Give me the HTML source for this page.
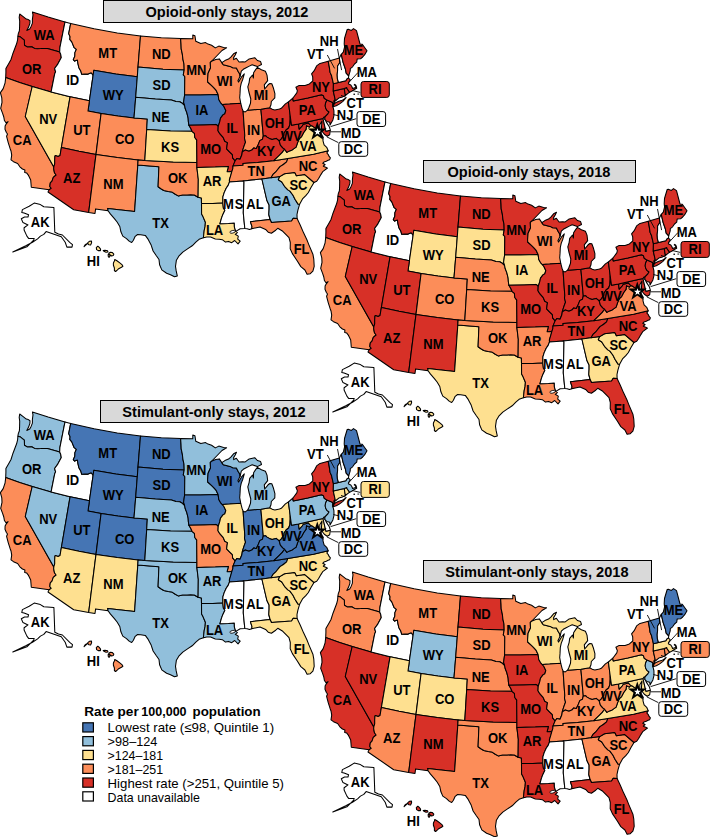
<!DOCTYPE html>
<html><head><meta charset="utf-8"><style>
html,body{margin:0;padding:0;background:#fff;overflow:hidden;}
svg{display:block;}
text{font-family:"Liberation Sans",sans-serif;font-weight:bold;}
</style></head><body>
<svg width="710" height="837" viewBox="0 0 710 837">
<defs>
<path id="sWA" d="M32.4,12.0 48.1,17.1 65.0,21.9 59.9,47.6 59.7,52.0 47.4,48.5 44.1,48.4 40.8,48.6 37.6,48.7 34.5,48.4 31.7,46.8 27.1,46.9 24.5,45.2 24.4,42.8 24.3,40.1 22.7,38.8 20.6,37.1 17.9,36.2 18.3,33.6 19.4,30.8 19.6,26.6 19.7,21.3 19.2,17.4 19.7,14.0 23.5,16.8 26.3,19.1 28.3,19.6 30.0,20.7 29.9,23.3 28.6,27.1 26.8,30.4 29.7,29.1 31.1,26.4 32.4,23.1 32.4,19.4 33.0,14.8 32.4,12.0Z"/>
<path id="sOR" d="M17.9,36.2 20.6,37.1 22.7,38.8 24.3,40.1 24.4,42.8 24.5,45.2 27.1,46.9 31.7,46.8 34.5,48.4 37.6,48.7 40.8,48.6 44.1,48.4 47.4,48.5 59.7,52.0 60.7,54.3 61.3,57.6 59.3,61.3 57.8,64.1 54.6,68.5 55.6,71.9 54.7,73.8 51.1,91.9 32.2,86.5 19.6,82.5 5.7,77.6 5.9,72.3 5.9,68.6 8.5,64.0 11.0,59.5 13.0,53.2 14.8,48.5 16.6,43.8 17.6,39.8 17.9,36.2Z"/>
<path id="sCA" d="M5.7,77.6 19.6,82.5 32.2,86.5 25.3,116.5 53.8,166.9 53.7,168.9 54.5,172.8 56.1,175.0 53.3,177.3 52.0,181.2 50.3,182.9 49.8,186.5 51.2,188.4 49.1,189.8 31.3,187.3 31.0,183.8 30.7,180.0 28.3,175.1 26.8,173.1 24.7,172.5 24.9,169.9 22.4,169.0 19.9,166.8 17.6,163.5 13.5,161.7 11.0,159.8 11.7,155.2 11.1,151.3 10.0,148.2 8.3,142.8 6.6,136.3 7.5,134.0 6.4,132.5 5.0,129.3 5.1,126.1 6.3,123.8 8.1,121.7 6.0,122.8 4.4,120.5 3.8,117.0 2.6,113.4 0.7,108.4 2.0,102.3 1.8,97.9 0.4,92.6 3.2,88.6 5.1,82.8 5.7,77.6Z"/>
<path id="sNV" d="M32.2,86.5 51.1,91.9 70.1,96.7 61.4,147.5 60.0,155.6 58.1,156.4 55.2,155.6 54.9,156.5 54.7,159.7 54.7,163.9 53.8,166.9 25.3,116.5 32.2,86.5Z"/>
<path id="sID" d="M65.0,21.9 70.7,23.4 68.7,33.6 70.1,36.8 69.8,39.4 71.8,41.9 74.2,47.7 76.4,49.3 74.9,52.6 74.8,56.3 73.3,59.6 74.6,61.1 77.4,60.0 78.0,63.8 78.9,67.7 80.9,71.3 81.7,74.3 84.6,74.1 88.1,74.1 91.2,72.7 93.1,75.3 89.4,100.8 70.1,96.7 51.1,91.9 54.7,73.8 55.6,71.9 54.6,68.5 57.8,64.1 59.3,61.3 61.3,57.6 60.7,54.3 59.7,52.0 59.9,47.6 65.0,21.9Z"/>
<path id="sMT" d="M70.7,23.4 94.1,28.8 117.3,33.0 140.5,36.0 138.0,67.1 137.3,76.8 115.8,74.0 93.8,70.3 93.1,75.3 91.2,72.7 88.1,74.1 84.6,74.1 81.7,74.3 80.9,71.3 78.9,67.7 78.0,63.8 77.4,60.0 74.6,61.1 73.3,59.6 74.8,56.3 74.9,52.6 76.4,49.3 74.2,47.7 71.8,41.9 69.8,39.4 70.1,36.8 68.7,33.6 70.7,23.4Z"/>
<path id="sWY" d="M93.1,75.3 93.8,70.3 115.8,74.0 137.3,76.8 135.7,97.3 134.0,117.9 117.9,115.9 101.1,113.4 88.0,111.0 89.4,100.8 93.1,75.3Z"/>
<path id="sUT" d="M70.1,96.7 89.4,100.8 88.0,111.0 101.1,113.4 96.0,154.4 79.0,151.3 61.4,147.5 70.1,96.7Z"/>
<path id="sCO" d="M101.1,113.4 117.9,115.9 134.0,117.9 147.3,119.1 146.7,129.5 144.8,160.5 138.1,159.9 117.2,157.6 96.0,154.4 101.1,113.4Z"/>
<path id="sAZ" d="M61.4,147.5 79.0,151.3 96.0,154.4 88.7,212.4 73.7,209.7 48.0,192.0 49.1,189.8 51.2,188.4 49.8,186.5 50.3,182.9 52.0,181.2 53.3,177.3 56.1,175.0 54.5,172.8 53.7,168.9 53.8,166.9 54.7,163.9 54.7,159.7 54.9,156.5 55.2,155.6 58.1,156.4 60.0,155.6 61.4,147.5Z"/>
<path id="sNM" d="M96.0,154.4 117.2,157.6 138.1,159.9 137.8,165.1 134.6,211.5 107.6,208.4 108.1,210.7 95.6,208.9 95.0,213.5 88.7,212.4 96.0,154.4Z"/>
<path id="sTX" d="M137.8,165.1 158.9,166.7 158.1,186.7 160.9,188.7 163.8,190.5 168.1,191.5 171.7,191.9 175.3,194.3 178.2,195.9 182.6,195.0 187.0,195.0 190.7,194.7 194.3,195.0 198.1,197.2 201.4,198.1 201.5,203.5 201.6,214.1 203.0,216.6 205.4,222.2 205.1,226.4 204.2,230.5 203.4,237.7 199.1,239.3 196.1,241.9 192.2,245.8 187.5,248.9 182.8,252.1 178.8,256.2 176.4,260.2 175.5,266.3 176.2,270.9 177.3,275.9 174.5,276.7 170.5,274.7 166.6,273.2 161.8,269.9 159.6,264.7 159.0,259.5 156.0,255.3 153.1,251.0 151.0,244.7 148.2,239.4 145.3,235.4 140.7,234.7 137.6,234.5 135.2,236.3 133.4,240.3 131.7,242.5 129.4,241.4 126.5,238.6 122.8,236.1 120.9,231.8 119.8,226.5 117.1,222.0 114.4,218.6 110.3,213.9 108.1,210.7 107.6,208.4 134.6,211.5 137.8,165.1Z"/>
<path id="sOK" d="M138.1,159.9 144.8,160.5 173.2,162.1 196.9,162.4 196.9,167.6 198.3,179.2 198.1,197.2 194.3,195.0 190.7,194.7 187.0,195.0 182.6,195.0 178.2,195.9 175.3,194.3 171.7,191.9 168.1,191.5 163.8,190.5 160.9,188.7 158.1,186.7 158.9,166.7 137.8,165.1 138.1,159.9Z"/>
<path id="sND" d="M140.5,36.0 161.3,37.8 180.6,38.6 181.0,43.7 181.2,48.8 182.3,53.9 182.9,59.1 184.0,64.2 184.2,69.9 163.0,69.2 138.0,67.1 140.5,36.0Z"/>
<path id="sSD" d="M138.0,67.1 163.0,69.2 184.2,69.9 183.3,74.9 184.8,76.5 184.6,95.0 183.6,102.3 184.6,105.5 182.3,103.3 179.7,101.7 175.9,101.6 171.4,99.9 155.3,99.0 135.7,97.3 137.3,76.8 138.0,67.1Z"/>
<path id="sNE" d="M135.7,97.3 155.3,99.0 171.4,99.9 175.9,101.6 179.7,101.7 182.3,103.3 184.6,105.5 185.2,108.5 186.8,112.6 188.1,117.8 188.4,122.0 188.9,125.3 190.7,128.2 192.0,131.3 170.5,130.9 146.7,129.5 147.3,119.1 134.0,117.9 135.7,97.3Z"/>
<path id="sKS" d="M146.7,129.5 170.5,130.9 192.0,131.3 194.4,133.4 194.8,137.5 196.8,140.1 196.7,140.6 196.9,162.4 173.2,162.1 144.8,160.5 146.7,129.5Z"/>
<path id="sMN" d="M180.6,38.6 192.8,38.8 192.8,34.9 194.9,35.7 195.8,41.3 200.8,43.6 205.6,42.6 208.0,44.1 211.6,45.3 215.3,47.9 218.8,46.1 223.6,47.4 226.6,47.7 222.0,50.5 216.2,56.5 211.5,61.3 210.3,62.4 210.5,68.0 208.1,73.2 207.6,79.4 207.7,82.0 210.9,84.9 213.5,87.4 216.2,90.4 218.1,94.4 200.3,95.0 184.6,95.0 184.8,76.5 183.3,74.9 184.2,69.9 184.0,64.2 182.9,59.1 182.3,53.9 181.2,48.8 181.0,43.7 180.6,38.6Z"/>
<path id="sIA" d="M184.6,95.0 200.3,95.0 218.1,94.4 218.8,99.6 220.5,102.6 222.3,104.5 223.9,106.5 225.8,110.5 224.9,113.7 223.0,114.9 220.5,118.1 219.9,121.2 218.2,126.7 217.4,125.5 215.9,124.4 204.1,124.9 188.9,125.3 188.4,122.0 188.1,117.8 186.8,112.6 185.2,108.5 184.6,105.5 183.6,102.3 184.6,95.0Z"/>
<path id="sMO" d="M188.9,125.3 204.1,124.9 215.9,124.4 217.4,125.5 218.2,126.7 218.0,130.7 219.8,133.7 223.3,137.7 224.8,141.2 227.5,142.6 227.1,145.2 226.6,148.9 229.5,151.8 232.4,154.7 232.6,157.8 235.2,160.8 234.3,162.9 233.0,166.1 232.8,168.7 231.9,171.4 227.1,171.7 228.4,166.4 215.4,167.1 196.9,167.6 196.9,162.4 196.7,140.6 196.8,140.1 194.8,137.5 194.4,133.4 192.0,131.3 190.7,128.2 188.9,125.3Z"/>
<path id="sAR" d="M196.9,167.6 215.4,167.1 228.4,166.4 227.1,171.7 231.9,171.4 230.7,175.6 229.4,179.9 229.5,181.9 228.3,185.1 226.2,188.3 224.2,192.6 222.9,196.8 222.8,203.0 212.8,203.5 201.5,203.5 201.4,198.1 198.1,197.2 198.3,179.2 196.9,167.6Z"/>
<path id="sLA" d="M201.5,203.5 212.8,203.5 222.8,203.0 223.4,208.2 224.9,210.2 222.9,214.4 221.5,218.1 219.9,223.8 228.5,223.4 234.3,223.0 234.4,227.1 235.8,231.4 237.4,232.6 235.2,234.3 238.3,236.1 237.7,239.2 240.2,241.1 238.0,243.9 234.7,240.5 231.7,242.7 228.6,241.4 225.5,242.1 222.3,239.7 219.2,239.3 215.3,238.9 210.6,237.0 206.8,236.9 203.4,237.7 204.2,230.5 205.1,226.4 205.4,222.2 203.0,216.6 201.6,214.1 201.5,203.5Z"/>
<path id="sWI" d="M211.5,61.3 215.7,59.6 219.3,58.9 221.8,62.6 223.3,64.8 230.1,66.4 232.7,67.7 236.4,67.9 238.2,71.4 239.6,73.8 240.1,76.3 237.9,80.7 238.6,82.1 241.4,77.2 244.3,73.8 242.8,79.2 241.2,83.4 240.3,87.7 240.0,93.9 239.7,97.7 240.7,103.2 229.7,104.1 222.3,104.5 220.5,102.6 218.8,99.6 218.1,94.4 216.2,90.4 213.5,87.4 210.9,84.9 207.7,82.0 207.6,79.4 208.1,73.2 210.5,68.0 210.3,62.4 211.5,61.3Z"/>
<path id="sIL" d="M222.3,104.5 229.7,104.1 240.7,103.2 242.0,108.2 243.1,111.2 244.8,135.5 244.5,138.1 245.5,142.2 244.3,145.4 242.9,149.7 242.3,151.9 241.8,155.0 240.0,159.3 236.8,158.6 235.2,160.8 232.6,157.8 232.4,154.7 229.5,151.8 226.6,148.9 227.1,145.2 227.5,142.6 224.8,141.2 223.3,137.7 219.8,133.7 218.0,130.7 218.2,126.7 219.9,121.2 220.5,118.1 223.0,114.9 224.9,113.7 225.8,110.5 223.9,106.5 222.3,104.5Z"/>
<path id="sIN" d="M243.1,111.2 245.3,111.9 247.6,110.2 260.9,109.2 263.3,136.0 262.4,139.3 259.8,140.6 257.8,145.6 256.3,148.4 253.5,148.1 252.3,149.8 248.9,151.2 245.3,150.0 242.3,151.9 242.9,149.7 244.3,145.4 245.5,142.2 244.5,138.1 244.8,135.5 243.1,111.2Z"/>
<path id="sOH" d="M260.9,109.2 269.7,107.7 272.9,109.6 274.9,109.9 279.5,109.1 281.3,108.3 285.4,103.9 288.4,102.0 290.2,115.7 290.2,119.3 289.9,124.6 288.6,128.0 286.1,130.0 284.1,133.0 284.0,135.1 282.2,137.5 281.7,138.6 279.2,140.9 276.1,138.4 272.1,139.5 269.2,138.4 267.0,137.1 265.5,135.7 263.3,136.0 260.9,109.2Z"/>
<path id="sKY" d="M263.3,136.0 265.5,135.7 267.0,137.1 269.2,138.4 272.1,139.5 276.1,138.4 279.2,140.9 280.4,145.1 282.8,147.8 284.6,149.2 282.3,152.4 278.8,155.8 273.8,160.7 257.5,162.5 243.0,163.4 243.1,165.3 233.0,166.1 234.3,162.9 235.2,160.8 236.8,158.6 240.0,159.3 241.8,155.0 242.3,151.9 245.3,150.0 248.9,151.2 252.3,149.8 253.5,148.1 256.3,148.4 257.8,145.6 259.8,140.6 262.4,139.3 263.3,136.0Z"/>
<path id="sTN" d="M233.0,166.1 243.1,165.3 243.0,163.4 257.5,162.5 273.8,160.7 287.8,158.6 286.6,161.9 283.4,164.5 280.0,166.6 276.3,171.3 273.0,174.4 271.0,177.8 261.9,179.0 243.2,180.9 229.5,181.9 229.4,179.9 230.7,175.6 231.9,171.4 232.8,168.7 233.0,166.1Z"/>
<path id="sMS" d="M229.5,181.9 243.2,180.9 244.0,181.9 243.3,213.0 244.8,228.4 240.2,228.8 235.8,231.4 234.4,227.1 234.3,223.0 228.5,223.4 219.9,223.8 221.5,218.1 222.9,214.4 224.9,210.2 223.4,208.2 222.8,203.0 222.9,196.8 224.2,192.6 226.2,188.3 228.3,185.1 229.5,181.9Z"/>
<path id="sAL" d="M243.2,180.9 261.9,179.0 266.9,200.5 269.1,205.1 269.1,209.3 268.8,214.5 270.1,219.5 250.4,221.7 252.0,226.7 251.7,228.8 249.5,229.5 247.1,228.7 244.8,228.4 243.3,213.0 244.0,181.9 243.2,180.9Z"/>
<path id="sGA" d="M261.9,179.0 271.0,177.8 279.7,176.6 278.3,179.7 281.8,182.0 284.5,186.3 287.9,189.9 289.9,191.1 293.0,195.3 295.0,199.2 297.9,203.9 299.6,204.3 297.9,210.1 297.0,214.5 297.1,218.5 293.2,218.2 291.6,220.9 271.4,222.5 270.1,219.5 268.8,214.5 269.1,209.3 269.1,205.1 266.9,200.5 261.9,179.0Z"/>
<path id="sFL" d="M270.1,219.5 271.4,222.5 291.6,220.9 293.2,218.2 297.1,218.5 300.3,225.3 303.7,233.1 306.9,239.7 308.8,244.6 312.9,254.2 313.8,259.2 314.2,266.3 312.9,271.2 310.3,273.7 307.1,274.3 304.9,270.0 300.8,266.6 297.3,261.0 292.4,253.6 290.2,248.8 290.3,242.5 289.0,237.6 286.3,234.9 282.8,231.3 277.8,228.3 275.7,230.2 271.4,233.3 268.2,232.2 265.6,229.4 260.0,226.9 251.7,228.8 252.0,226.7 250.4,221.7 270.1,219.5Z"/>
<path id="sSC" d="M314.0,182.5 304.5,174.4 296.4,175.7 295.1,173.0 294.2,172.6 284.5,173.7 279.7,176.6 278.3,179.7 281.8,182.0 284.5,186.3 287.9,189.9 289.9,191.1 293.0,195.3 295.0,199.2 297.9,203.9 299.6,204.3 302.5,198.9 305.8,195.7 308.4,192.5 310.7,187.9 314.0,182.5Z"/>
<path id="sNC" d="M271.0,177.8 273.0,174.4 276.3,171.3 280.0,166.6 283.4,164.5 286.6,161.9 287.8,158.6 313.5,154.2 328.2,150.8 326.9,153.1 328.1,154.3 329.3,156.7 330.4,157.9 329.6,159.7 328.1,160.3 326.3,161.2 323.9,162.1 322.7,163.3 325.1,164.5 323.3,166.2 326.3,167.5 327.5,168.1 325.1,169.8 322.7,171.7 320.9,174.6 318.5,178.8 316.7,181.2 314.0,182.5 304.5,174.4 296.4,175.7 295.1,173.0 294.2,172.6 284.5,173.7 279.7,176.6 271.0,177.8Z"/>
<path id="sVA" d="M273.8,160.7 287.8,158.6 313.5,154.2 328.2,150.8 326.7,147.3 324.1,144.9 323.0,140.9 323.1,137.2 320.4,135.7 317.3,134.3 315.4,133.2 316.2,129.8 315.6,128.4 312.8,126.3 310.8,125.5 309.2,127.1 306.5,125.6 306.0,129.4 303.7,132.5 301.6,136.6 299.4,138.6 297.6,142.6 296.1,147.1 292.2,149.9 289.5,150.9 286.9,152.4 284.6,149.2 282.3,152.4 278.8,155.8 273.8,160.7Z"/>
<path id="sWV" d="M279.2,140.9 281.7,138.6 282.2,137.5 284.0,135.1 284.1,133.0 286.1,130.0 288.6,128.0 289.9,124.6 290.2,119.3 290.2,115.7 291.5,125.2 298.5,123.9 299.2,129.2 302.1,126.0 303.2,124.2 306.5,123.5 308.5,123.1 310.8,125.5 309.2,127.1 306.5,125.6 306.0,129.4 303.7,132.5 301.6,136.6 299.4,138.6 297.6,142.6 296.1,147.1 292.2,149.9 289.5,150.9 286.9,152.4 284.6,149.2 282.8,147.8 280.4,145.1 279.2,140.9Z"/>
<path id="sMD" d="M298.5,123.9 311.6,121.1 323.0,118.5 325.9,131.2 330.3,130.2 329.7,134.8 327.2,136.2 324.3,134.3 321.6,130.7 321.5,126.5 322.0,121.1 319.8,124.8 319.9,129.0 321.4,133.9 323.1,137.2 320.4,135.7 317.3,134.3 315.4,133.2 316.2,129.8 315.6,128.4 312.8,126.3 310.8,125.5 308.5,123.1 306.5,123.5 303.2,124.2 302.1,126.0 299.2,129.2 298.5,123.9Z"/>
<path id="sDE" d="M323.0,118.5 324.0,117.0 325.0,116.9 324.8,119.3 326.3,122.1 329.3,126.7 330.3,130.2 325.9,131.2 323.0,118.5Z"/>
<path id="sPA" d="M290.2,115.7 288.4,102.0 292.8,98.2 293.2,100.9 307.8,97.9 321.5,94.7 323.5,95.8 324.3,98.3 327.0,100.1 325.5,103.2 325.2,106.0 325.8,108.5 326.9,110.3 329.0,111.9 327.9,113.8 326.7,115.1 325.0,116.9 324.0,117.0 323.0,118.5 311.6,121.1 298.5,123.9 291.5,125.2 290.2,115.7Z"/>
<path id="sNJ" d="M325.0,116.9 326.7,115.1 327.9,113.8 329.0,111.9 326.9,110.3 325.8,108.5 325.2,106.0 325.5,103.2 327.0,100.1 332.9,102.4 332.7,105.1 332.8,106.5 333.3,108.1 333.9,110.6 334.0,115.4 332.9,119.9 330.0,125.1 329.8,122.3 326.9,121.5 324.8,119.3 325.0,116.9Z"/>
<path id="sNY" d="M292.8,98.2 296.8,92.9 297.4,90.7 295.9,87.3 299.2,85.4 305.1,85.4 309.4,83.9 312.8,81.0 312.7,76.8 311.6,73.9 314.2,70.7 316.6,65.9 320.0,63.4 328.2,61.3 329.2,66.3 330.1,72.4 331.4,75.2 333.4,83.7 333.3,91.1 335.2,99.7 333.9,101.1 334.4,102.0 333.8,103.8 333.0,105.0 332.8,106.5 332.7,105.1 332.9,102.4 327.0,100.1 324.3,98.3 323.5,95.8 321.5,94.7 307.8,97.9 293.2,100.9 292.8,98.2ZM333.0,106.8 336.3,105.8 339.3,104.1 342.9,101.3 345.9,98.0 343.2,99.6 341.4,100.6 338.8,101.3 335.6,102.7 333.9,104.3 333.0,106.8Z"/>
<path id="sCT" d="M333.3,91.1 344.2,88.4 345.4,95.5 342.6,96.9 338.8,98.1 335.9,100.5 334.4,102.0 333.9,101.1 335.2,99.7 333.3,91.1Z"/>
<path id="sRI" d="M344.2,88.4 346.8,87.6 347.1,88.8 349.6,92.3 348.0,93.4 345.4,95.5 344.2,88.4Z"/>
<path id="sMA" d="M333.3,91.1 333.4,83.7 338.5,82.5 345.8,80.7 347.0,78.7 348.5,78.0 350.3,79.8 348.6,82.5 348.6,84.1 350.8,85.0 351.9,86.8 352.6,88.5 354.9,87.8 355.9,87.0 355.3,85.5 354.2,84.9 354.7,84.4 355.8,85.2 356.5,87.0 356.7,88.3 353.9,89.7 352.5,90.9 349.6,92.3 347.1,88.8 346.8,87.6 344.2,88.4 333.3,91.1Z"/>
<path id="sVT" d="M328.2,61.3 329.2,66.3 330.1,72.4 331.4,75.2 333.4,83.7 338.5,82.5 337.4,78.8 337.2,74.7 337.6,70.3 337.6,66.0 339.8,62.7 339.4,58.1 328.2,61.3Z"/>
<path id="sNH" d="M339.4,58.1 339.8,62.7 337.6,66.0 337.6,70.3 337.2,74.7 337.4,78.8 338.5,82.5 345.8,80.7 347.0,78.7 348.5,78.0 348.7,75.8 346.2,73.1 345.4,69.0 343.1,62.3 341.3,54.3 339.4,58.1Z"/>
<path id="sME" d="M341.3,54.3 343.1,62.3 345.4,69.0 346.2,73.1 348.7,75.8 350.2,70.8 350.3,68.6 352.6,66.8 354.5,64.0 356.7,62.2 357.2,58.9 360.5,58.8 362.7,57.0 364.7,54.7 367.0,50.7 364.8,47.7 362.3,44.3 360.0,44.0 356.5,30.6 353.5,28.6 351.4,30.4 348.3,29.3 347.2,29.5 344.5,38.5 344.2,43.9 344.6,46.9 343.3,52.1 341.3,54.3Z"/>
<path id="sMI" d="M247.6,110.2 260.9,109.2 269.7,107.7 271.0,104.7 271.3,101.5 274.8,97.9 274.9,93.7 273.3,87.7 271.8,83.8 269.9,83.5 268.1,84.8 264.7,89.0 264.3,84.9 267.7,80.7 267.0,75.1 265.4,71.2 261.4,69.7 257.4,67.4 255.8,69.4 253.6,72.8 253.4,78.0 252.5,75.0 249.7,78.4 249.1,82.6 247.8,86.9 248.9,92.0 250.8,99.0 250.5,103.2 248.9,107.5 247.6,110.2ZM221.8,62.6 224.9,60.6 228.5,59.1 230.8,57.1 233.6,53.8 236.5,52.3 235.2,55.0 233.6,57.6 233.7,59.6 236.3,58.2 239.1,62.0 242.7,61.7 245.2,61.9 249.2,58.9 254.7,57.7 257.4,60.5 260.6,61.6 261.5,64.5 257.4,66.6 252.2,64.7 249.3,66.1 245.7,68.0 243.3,69.3 241.3,71.1 240.1,76.3 239.6,73.8 238.2,71.4 236.4,67.9 232.7,67.7 230.1,66.4 223.3,64.8 221.8,62.6Z"/>
<path id="sAK" d="M34.2,203.1 40.4,204.6 43.8,206.8 53.9,207.6 54.8,232.2 58.5,233.9 62.4,235.0 69.7,242.3 72.5,244.6 72.0,247.1 66.9,247.1 65.2,242.3 61.3,236.7 46.1,231.6 43.8,234.4 40.4,236.1 37.6,238.9 32.5,242.3 25.8,245.7 12.8,251.9 26.9,246.8 33.7,240.1 34.2,238.4 28.6,238.4 26.9,236.1 24.1,230.0 24.1,227.7 28.0,224.9 23.0,222.6 21.3,218.7 24.6,217.0 28.0,217.0 28.6,214.7 24.1,213.0 21.8,212.5 22.4,209.6 29.2,206.3Z"/>
<path id="sHI" d="M84.1,246.6 85.0,245.0 86.4,243.9 87.6,243.4 86.6,244.4 85.2,245.6ZM87.8,242.6 89.4,241.3 91.5,241.0 91.6,242.8 90.6,245.0 89.0,244.8 88.0,243.8ZM96.3,247.6 97.8,246.2 99.0,247.2 100.6,249.2 100.4,250.6 98.2,250.6 96.6,249.6ZM103.2,250.5 105.0,250.3 107.6,250.8 107.9,252.0 106.0,252.2 104.4,251.6ZM108.2,254.2 109.6,254.6 110.0,256.2 109.0,257.4 108.2,256.2ZM108.9,253.2 110.4,252.2 112.4,252.6 113.8,254.2 113.2,255.6 111.6,256.0 110.4,255.0 109.4,254.8ZM114.8,259.5 117.3,261.0 120.1,263.1 122.2,264.9 122.9,266.3 121.5,267.3 118.7,268.7 116.9,270.5 115.5,271.5 114.4,270.5 114.4,268.0 113.4,265.2 113.4,263.1 114.4,261.0Z"/>
<g id="ov"><g stroke="#000" stroke-width="0.9" fill="none"><line x1="337.5" y1="49.0" x2="341.6" y2="70.1"/><line x1="327.3" y1="55.0" x2="334.6" y2="68.4"/><line x1="357.9" y1="72.6" x2="348.2" y2="83.2"/><line x1="360.2" y1="92.4" x2="351.8" y2="90.4"/><line x1="346.5" y1="97.5" x2="341.0" y2="95.4"/><line x1="338.0" y1="115.7" x2="333.4" y2="114.5"/><line x1="356.2" y1="118.7" x2="330.6" y2="126.6"/><line x1="341.0" y1="131.8" x2="330.5" y2="131.8"/><line x1="338.3" y1="142.6" x2="326.9" y2="136.9"/></g><ellipse cx="232.6" cy="231.8" rx="2.8" ry="1.3" transform="rotate(-15 232.6 231.8)" fill="#fff" stroke="#000" stroke-width="0.8"/><ellipse cx="354.2" cy="94.3" rx="0.9" ry="0.7" fill="#000"/><rect x="357.4" y="93.6" width="1.8" height="0.9" fill="#000"/><path d="M317.3,121.6 319.7,128.4 326.8,128.5 321.1,132.8 323.2,139.7 317.3,135.6 311.4,139.7 313.5,132.8 307.8,128.5 314.9,128.4Z" fill="#000"/><path d="M317.5,128.2 318.4,130.7 321.0,130.8 318.9,132.4 319.7,134.9 317.5,133.4 315.3,134.9 316.1,132.4 314.0,130.8 316.6,130.7Z" fill="#fff"/><g font-size="13" text-anchor="middle" fill="#000"><text transform="translate(44.1,39.7) scale(1,1.1)">WA</text><text transform="translate(31.7,73.6) scale(1,1.1)">OR</text><text transform="translate(22.2,144.9) scale(1,1.1)">CA</text><text transform="translate(48.2,123.8) scale(1,1.1)">NV</text><text transform="translate(72.7,85.3) scale(1,1.1)">ID</text><text transform="translate(107.7,57.6) scale(1,1.1)">MT</text><text transform="translate(113.3,99.6) scale(1,1.1)">WY</text><text transform="translate(81.9,134.8) scale(1,1.1)">UT</text><text transform="translate(124.7,143.8) scale(1,1.1)">CO</text><text transform="translate(71.7,182.8) scale(1,1.1)">AZ</text><text transform="translate(113.4,189.2) scale(1,1.1)">NM</text><text transform="translate(161.3,58.9) scale(1,1.1)">ND</text><text transform="translate(161.6,90.1) scale(1,1.1)">SD</text><text transform="translate(160.7,121.5) scale(1,1.1)">NE</text><text transform="translate(170.1,152.0) scale(1,1.1)">KS</text><text transform="translate(177.7,183.2) scale(1,1.1)">OK</text><text transform="translate(160.5,228.0) scale(1,1.1)">TX</text><text transform="translate(196.4,74.9) scale(1,1.1)">MN</text><text transform="translate(202.0,115.0) scale(1,1.1)">IA</text><text transform="translate(210.7,153.8) scale(1,1.1)">MO</text><text transform="translate(212.1,185.5) scale(1,1.1)">AR</text><text transform="translate(214.6,235.1) scale(1,1.1)">LA</text><text transform="translate(224.8,86.0) scale(1,1.1)">WI</text><text transform="translate(232.2,133.0) scale(1,1.1)">IL</text><text transform="translate(261.0,100.3) scale(1,1.1)">MI</text><text transform="translate(253.6,134.8) scale(1,1.1)">IN</text><text transform="translate(274.4,127.6) scale(1,1.1)">OH</text><text transform="translate(266.0,155.6) scale(1,1.1)">KY</text><text transform="translate(256.2,175.6) scale(1,1.1)">TN</text><text transform="translate(228.4,209.1) scale(1,1.1)">M</text><text transform="translate(239.2,209.1) scale(1,1.1)">S</text><text transform="translate(255.0,209.1) scale(1,1.1)">AL</text><text transform="translate(281.2,205.8) scale(1,1.1)">GA</text><text transform="translate(298.4,189.7) scale(1,1.1)">SC</text><text transform="translate(308.1,170.6) scale(1,1.1)">NC</text><text transform="translate(308.1,150.6) scale(1,1.1)">VA</text><text transform="translate(291.1,140.6) scale(1,1.1)">WV</text><text transform="translate(307.4,114.9) scale(1,1.1)">PA</text><text transform="translate(320.9,91.9) scale(1,1.1)">NY</text><text transform="translate(301.6,254.3) scale(1,1.1)">FL</text><text transform="translate(353.5,55.1) scale(1,1.1)">ME</text><text transform="translate(329.2,45.9) scale(1,1.1)">NH</text><text transform="translate(315.4,59.3) scale(1,1.1)">VT</text><text transform="translate(366.9,76.9) scale(1,1.1)">MA</text><text transform="translate(355.2,107.8) scale(1,1.1)">CT</text><text transform="translate(345.1,120.3) scale(1,1.1)">NJ</text><text transform="translate(350.8,137.9) scale(1,1.1)">MD</text><text transform="translate(40.2,226.5) scale(1,1.1)">AK</text><text transform="translate(93.3,266.0) scale(1,1.1)">HI</text></g></g>
</defs>
<g transform="translate(0,0)">
<g stroke="#000" stroke-width="1.05" stroke-linejoin="round"><use href="#sWA" fill="#d73027"/><use href="#sOR" fill="#d73027"/><use href="#sCA" fill="#fc8d59"/><use href="#sNV" fill="#fee090"/><use href="#sID" fill="#ffffff"/><use href="#sMT" fill="#fc8d59"/><use href="#sWY" fill="#4575b4"/><use href="#sUT" fill="#fc8d59"/><use href="#sCO" fill="#fc8d59"/><use href="#sAZ" fill="#d73027"/><use href="#sNM" fill="#fc8d59"/><use href="#sTX" fill="#91bfdb"/><use href="#sOK" fill="#fc8d59"/><use href="#sND" fill="#fc8d59"/><use href="#sSD" fill="#91bfdb"/><use href="#sNE" fill="#91bfdb"/><use href="#sKS" fill="#fee090"/><use href="#sMN" fill="#fc8d59"/><use href="#sIA" fill="#4575b4"/><use href="#sMO" fill="#d73027"/><use href="#sAR" fill="#fee090"/><use href="#sLA" fill="#fee090"/><use href="#sWI" fill="#fc8d59"/><use href="#sIL" fill="#d73027"/><use href="#sIN" fill="#fc8d59"/><use href="#sOH" fill="#d73027"/><use href="#sKY" fill="#d73027"/><use href="#sTN" fill="#fc8d59"/><use href="#sMS" fill="#ffffff"/><use href="#sAL" fill="#ffffff"/><use href="#sGA" fill="#91bfdb"/><use href="#sFL" fill="#fc8d59"/><use href="#sSC" fill="#fee090"/><use href="#sNC" fill="#fc8d59"/><use href="#sVA" fill="#fee090"/><use href="#sWV" fill="#d73027"/><use href="#sMD" fill="#d73027"/><use href="#sDE" fill="#ffffff"/><use href="#sPA" fill="#d73027"/><use href="#sNJ" fill="#d73027"/><use href="#sNY" fill="#d73027"/><use href="#sCT" fill="#d73027"/><use href="#sRI" fill="#d73027"/><use href="#sMA" fill="#d73027"/><use href="#sVT" fill="#fc8d59"/><use href="#sNH" fill="#ffffff"/><use href="#sME" fill="#d73027"/><use href="#sMI" fill="#fc8d59"/><use href="#sAK" fill="#ffffff"/><use href="#sHI" fill="#fee090"/></g>
<use href="#ov"/>
<rect x="361" y="81.5" width="28.3" height="15.9" rx="2.5" fill="#d73027" stroke="#000" stroke-width="1"/><text transform="translate(375.1,93.6) scale(1,1.1)" font-size="13" text-anchor="middle">RI</text><rect x="357" y="111.6" width="28.6" height="14.9" rx="2.5" fill="#ffffff" stroke="#000" stroke-width="1"/><text transform="translate(371.3,123.6) scale(1,1.1)" font-size="13" text-anchor="middle">DE</text><rect x="338.8" y="141.7" width="28.9" height="14.6" rx="2.5" fill="#ffffff" stroke="#000" stroke-width="1"/><text transform="translate(353.2,153.7) scale(1,1.1)" font-size="13" text-anchor="middle">DC</text><rect x="103.5" y="0.5" width="248" height="22" fill="#d9d9d9" stroke="#000" stroke-width="1"/><text transform="translate(226.9,16.6) scale(1,1.06)" font-size="14.6" text-anchor="middle">Opioid-only stays, 2012</text></g>
<g transform="translate(320,160)">
<g stroke="#000" stroke-width="1.05" stroke-linejoin="round"><use href="#sWA" fill="#d73027"/><use href="#sOR" fill="#d73027"/><use href="#sCA" fill="#fc8d59"/><use href="#sNV" fill="#d73027"/><use href="#sID" fill="#ffffff"/><use href="#sMT" fill="#d73027"/><use href="#sWY" fill="#fee090"/><use href="#sUT" fill="#d73027"/><use href="#sCO" fill="#fc8d59"/><use href="#sAZ" fill="#d73027"/><use href="#sNM" fill="#d73027"/><use href="#sTX" fill="#fee090"/><use href="#sOK" fill="#fc8d59"/><use href="#sND" fill="#d73027"/><use href="#sSD" fill="#fee090"/><use href="#sNE" fill="#fc8d59"/><use href="#sKS" fill="#fc8d59"/><use href="#sMN" fill="#d73027"/><use href="#sIA" fill="#fee090"/><use href="#sMO" fill="#d73027"/><use href="#sAR" fill="#fc8d59"/><use href="#sLA" fill="#fc8d59"/><use href="#sWI" fill="#fc8d59"/><use href="#sIL" fill="#d73027"/><use href="#sIN" fill="#d73027"/><use href="#sOH" fill="#d73027"/><use href="#sKY" fill="#d73027"/><use href="#sTN" fill="#d73027"/><use href="#sMS" fill="#ffffff"/><use href="#sAL" fill="#ffffff"/><use href="#sGA" fill="#fee090"/><use href="#sFL" fill="#d73027"/><use href="#sSC" fill="#fee090"/><use href="#sNC" fill="#d73027"/><use href="#sVA" fill="#fc8d59"/><use href="#sWV" fill="#d73027"/><use href="#sMD" fill="#d73027"/><use href="#sDE" fill="#ffffff"/><use href="#sPA" fill="#d73027"/><use href="#sNJ" fill="#d73027"/><use href="#sNY" fill="#d73027"/><use href="#sCT" fill="#d73027"/><use href="#sRI" fill="#d73027"/><use href="#sMA" fill="#d73027"/><use href="#sVT" fill="#d73027"/><use href="#sNH" fill="#ffffff"/><use href="#sME" fill="#d73027"/><use href="#sMI" fill="#d73027"/><use href="#sAK" fill="#ffffff"/><use href="#sHI" fill="#fee090"/></g>
<use href="#ov"/>
<rect x="361" y="81.5" width="28.3" height="15.9" rx="2.5" fill="#d73027" stroke="#000" stroke-width="1"/><text transform="translate(375.1,93.6) scale(1,1.1)" font-size="13" text-anchor="middle">RI</text><rect x="357" y="111.6" width="28.6" height="14.9" rx="2.5" fill="#ffffff" stroke="#000" stroke-width="1"/><text transform="translate(371.3,123.6) scale(1,1.1)" font-size="13" text-anchor="middle">DE</text><rect x="338.8" y="141.7" width="28.9" height="14.6" rx="2.5" fill="#ffffff" stroke="#000" stroke-width="1"/><text transform="translate(353.2,153.7) scale(1,1.1)" font-size="13" text-anchor="middle">DC</text><rect x="103.5" y="0.5" width="212" height="22" fill="#d9d9d9" stroke="#000" stroke-width="1"/><text transform="translate(208.9,16.6) scale(1,1.06)" font-size="14.6" text-anchor="middle">Opioid-only stays, 2018</text></g>
<g transform="translate(0,400)">
<g stroke="#000" stroke-width="1.05" stroke-linejoin="round"><use href="#sWA" fill="#91bfdb"/><use href="#sOR" fill="#91bfdb"/><use href="#sCA" fill="#fc8d59"/><use href="#sNV" fill="#91bfdb"/><use href="#sID" fill="#ffffff"/><use href="#sMT" fill="#4575b4"/><use href="#sWY" fill="#4575b4"/><use href="#sUT" fill="#4575b4"/><use href="#sCO" fill="#4575b4"/><use href="#sAZ" fill="#fee090"/><use href="#sNM" fill="#fee090"/><use href="#sTX" fill="#91bfdb"/><use href="#sOK" fill="#91bfdb"/><use href="#sND" fill="#4575b4"/><use href="#sSD" fill="#4575b4"/><use href="#sNE" fill="#91bfdb"/><use href="#sKS" fill="#91bfdb"/><use href="#sMN" fill="#91bfdb"/><use href="#sIA" fill="#4575b4"/><use href="#sMO" fill="#fc8d59"/><use href="#sAR" fill="#91bfdb"/><use href="#sLA" fill="#91bfdb"/><use href="#sWI" fill="#4575b4"/><use href="#sIL" fill="#fee090"/><use href="#sIN" fill="#4575b4"/><use href="#sOH" fill="#fee090"/><use href="#sKY" fill="#4575b4"/><use href="#sTN" fill="#4575b4"/><use href="#sMS" fill="#ffffff"/><use href="#sAL" fill="#ffffff"/><use href="#sGA" fill="#fee090"/><use href="#sFL" fill="#fee090"/><use href="#sSC" fill="#fee090"/><use href="#sNC" fill="#fee090"/><use href="#sVA" fill="#4575b4"/><use href="#sWV" fill="#4575b4"/><use href="#sMD" fill="#fee090"/><use href="#sDE" fill="#ffffff"/><use href="#sPA" fill="#91bfdb"/><use href="#sNJ" fill="#91bfdb"/><use href="#sNY" fill="#d73027"/><use href="#sCT" fill="#fee090"/><use href="#sRI" fill="#fee090"/><use href="#sMA" fill="#91bfdb"/><use href="#sVT" fill="#4575b4"/><use href="#sNH" fill="#ffffff"/><use href="#sME" fill="#4575b4"/><use href="#sMI" fill="#91bfdb"/><use href="#sAK" fill="#ffffff"/><use href="#sHI" fill="#fc8d59"/></g>
<use href="#ov"/>
<rect x="361" y="81.5" width="28.3" height="15.9" rx="2.5" fill="#fee090" stroke="#000" stroke-width="1"/><text transform="translate(375.1,93.6) scale(1,1.1)" font-size="13" text-anchor="middle">RI</text><rect x="357" y="111.6" width="28.6" height="14.9" rx="2.5" fill="#ffffff" stroke="#000" stroke-width="1"/><text transform="translate(371.3,123.6) scale(1,1.1)" font-size="13" text-anchor="middle">DE</text><rect x="338.8" y="141.7" width="28.9" height="14.6" rx="2.5" fill="#ffffff" stroke="#000" stroke-width="1"/><text transform="translate(353.2,153.7) scale(1,1.1)" font-size="13" text-anchor="middle">DC</text><rect x="100.5" y="0.5" width="228" height="22" fill="#d9d9d9" stroke="#000" stroke-width="1"/><text transform="translate(213.9,16.6) scale(1,1.06)" font-size="14.6" text-anchor="middle">Stimulant-only stays, 2012</text></g>
<g transform="translate(320,560)">
<g stroke="#000" stroke-width="1.05" stroke-linejoin="round"><use href="#sWA" fill="#fc8d59"/><use href="#sOR" fill="#fc8d59"/><use href="#sCA" fill="#d73027"/><use href="#sNV" fill="#d73027"/><use href="#sID" fill="#ffffff"/><use href="#sMT" fill="#fc8d59"/><use href="#sWY" fill="#91bfdb"/><use href="#sUT" fill="#fee090"/><use href="#sCO" fill="#fee090"/><use href="#sAZ" fill="#fc8d59"/><use href="#sNM" fill="#d73027"/><use href="#sTX" fill="#fc8d59"/><use href="#sOK" fill="#fc8d59"/><use href="#sND" fill="#d73027"/><use href="#sSD" fill="#fc8d59"/><use href="#sNE" fill="#fc8d59"/><use href="#sKS" fill="#d73027"/><use href="#sMN" fill="#fc8d59"/><use href="#sIA" fill="#d73027"/><use href="#sMO" fill="#d73027"/><use href="#sAR" fill="#d73027"/><use href="#sLA" fill="#d73027"/><use href="#sWI" fill="#fee090"/><use href="#sIL" fill="#fc8d59"/><use href="#sIN" fill="#fc8d59"/><use href="#sOH" fill="#fc8d59"/><use href="#sKY" fill="#fc8d59"/><use href="#sTN" fill="#fc8d59"/><use href="#sMS" fill="#ffffff"/><use href="#sAL" fill="#ffffff"/><use href="#sGA" fill="#fc8d59"/><use href="#sFL" fill="#d73027"/><use href="#sSC" fill="#fc8d59"/><use href="#sNC" fill="#d73027"/><use href="#sVA" fill="#fee090"/><use href="#sWV" fill="#fc8d59"/><use href="#sMD" fill="#fee090"/><use href="#sDE" fill="#ffffff"/><use href="#sPA" fill="#fee090"/><use href="#sNJ" fill="#91bfdb"/><use href="#sNY" fill="#fc8d59"/><use href="#sCT" fill="#fc8d59"/><use href="#sRI" fill="#fc8d59"/><use href="#sMA" fill="#fee090"/><use href="#sVT" fill="#4575b4"/><use href="#sNH" fill="#ffffff"/><use href="#sME" fill="#4575b4"/><use href="#sMI" fill="#fee090"/><use href="#sAK" fill="#ffffff"/><use href="#sHI" fill="#d73027"/></g>
<use href="#ov"/>
<rect x="361" y="81.5" width="28.3" height="15.9" rx="2.5" fill="#fc8d59" stroke="#000" stroke-width="1"/><text transform="translate(375.1,93.6) scale(1,1.1)" font-size="13" text-anchor="middle">RI</text><rect x="357" y="111.6" width="28.6" height="14.9" rx="2.5" fill="#ffffff" stroke="#000" stroke-width="1"/><text transform="translate(371.3,123.6) scale(1,1.1)" font-size="13" text-anchor="middle">DE</text><rect x="338.8" y="141.7" width="28.9" height="14.6" rx="2.5" fill="#ffffff" stroke="#000" stroke-width="1"/><text transform="translate(353.2,153.7) scale(1,1.1)" font-size="13" text-anchor="middle">DC</text><rect x="103.5" y="0.5" width="228" height="22" fill="#d9d9d9" stroke="#000" stroke-width="1"/><text transform="translate(216.9,16.6) scale(1,1.06)" font-size="14.6" text-anchor="middle">Stimulant-only stays, 2018</text></g>
<g font-size="13" transform="translate(0,715.7) scale(1,1.04)"><text x="84.3" y="0" textLength="54.4" lengthAdjust="spacingAndGlyphs">Rate per</text><text x="141.3" y="0" textLength="45.3" lengthAdjust="spacingAndGlyphs">100,000</text><text x="192.5" y="0" textLength="68.2" lengthAdjust="spacingAndGlyphs">population</text></g><rect x="82.8" y="722.80" width="10.6" height="9.2" fill="#4575b4" stroke="#000" stroke-width="1.2"/><text x="107.6" y="731.90" font-size="13" textLength="166.5" lengthAdjust="spacingAndGlyphs" style="font-weight:normal">Lowest rate (&#8804;98, Quintile 1)</text><rect x="82.8" y="736.60" width="10.6" height="9.2" fill="#91bfdb" stroke="#000" stroke-width="1.2"/><text x="107.6" y="745.85" font-size="13" textLength="49.8" lengthAdjust="spacingAndGlyphs" style="font-weight:normal">&gt;98&#8211;124</text><rect x="82.8" y="750.40" width="10.6" height="9.2" fill="#fee090" stroke="#000" stroke-width="1.2"/><text x="107.6" y="759.80" font-size="13" textLength="55.5" lengthAdjust="spacingAndGlyphs" style="font-weight:normal">&gt;124&#8211;181</text><rect x="82.8" y="764.20" width="10.6" height="9.2" fill="#fc8d59" stroke="#000" stroke-width="1.2"/><text x="107.6" y="773.75" font-size="13" textLength="55.5" lengthAdjust="spacingAndGlyphs" style="font-weight:normal">&gt;181&#8211;251</text><rect x="82.8" y="778.00" width="10.6" height="9.2" fill="#d73027" stroke="#000" stroke-width="1.2"/><text x="107.6" y="787.70" font-size="13" textLength="176.3" lengthAdjust="spacingAndGlyphs" style="font-weight:normal">Highest rate (&gt;251, Quintile 5)</text><rect x="82.8" y="791.80" width="10.6" height="9.2" fill="#ffffff" stroke="#000" stroke-width="1.2"/><text x="107.6" y="801.65" font-size="13" textLength="92.3" lengthAdjust="spacingAndGlyphs" style="font-weight:normal">Data unavailable</text></svg></body></html>
